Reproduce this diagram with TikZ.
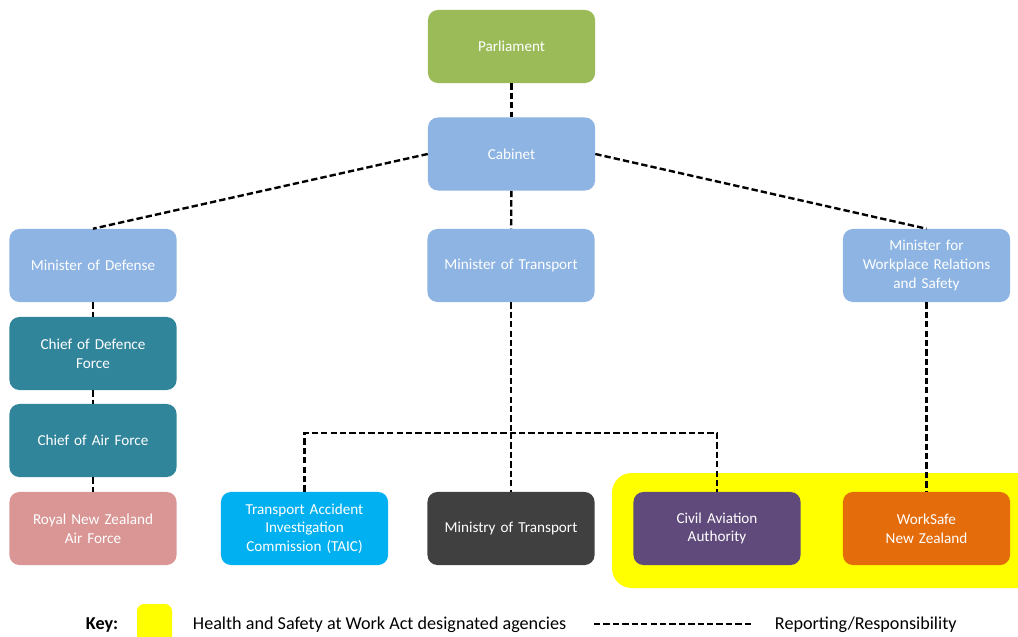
\documentclass[tikz,border=0pt]{standalone}
\usepackage{fontspec}
\setmainfont{Carlito}
\usetikzlibrary{positioning,calc}
\definecolor{parlgreen}{RGB}{155,187,89}
\definecolor{ministerblue}{RGB}{141,180,226}
\definecolor{chiefteal}{RGB}{49,133,155}
\definecolor{airpink}{RGB}{217,150,148}
\definecolor{taicblue}{RGB}{0,176,240}
\definecolor{motgray}{RGB}{64,64,64}
\definecolor{caapurple}{RGB}{96,74,123}
\definecolor{wsorange}{RGB}{228,108,10}
\definecolor{hsyellow}{RGB}{255,255,0}
\tikzset{
  box/.style = {rectangle, rounded corners=7pt,
                text width = 3.9cm, align = center,
                minimum width = 4.175cm, minimum height = 1.825cm,
                inner sep = 2pt, text = white,
                font = \fontsize{10.8}{13.2}\selectfont},
  link/.style = {line width=1.7pt, dash pattern=on 4.5pt off 2.2pt},
  keytext/.style = {anchor=west, font=\fontsize{12.9}{14}\selectfont}
}

\begin{document}
\begin{tikzpicture}[x=0.025cm, y=-0.025cm]
    \useasboundingbox (0,0) rectangle (1018,637);
    % designated agencies
    \begin{scope}
      \clip (0,0) rectangle (1018,637);
      \fill[hsyellow, rounded corners=14pt] (612,473) rectangle (1050,588);
      \fill[hsyellow, rounded corners=5pt] (137,604) rectangle (172,660);
    \end{scope}

    \node[box, fill=parlgreen]    (parl)     at (511.5,46.5) {Parliament};
    \node[box, fill=ministerblue] (cab)      at (511.5,154)  {Cabinet};
    \node[box, fill=ministerblue] (mindef)   at (93,265.5)   {Minister of Defense};
    \node[box, fill=ministerblue] (mintrans) at (511,265.5)  {Minister of Transport};
    \node[box, fill=ministerblue] (minwork)  at (926.5,265.5)
      {Minister for\\ Workplace Relations\\ and Safety};
    \node[box, fill=chiefteal]    (cdf)      at (93,353.5)   {Chief of Defence\\ Force};
    \node[box, fill=chiefteal]    (caf)      at (93,440.5)   {Chief of Air Force};
    \node[box, fill=airpink]      (rnzaf)    at (93,528.5)   {Royal New Zealand\\ Air Force};
    \node[box, fill=taicblue]     (taic)     at (304.5,528.5)
      {Transport Accident\\ Investigation\\ Commission (TAIC)};
    \node[box, fill=motgray]      (mot)      at (511,528.5)  {Ministry of Transport};
    \node[box, fill=caapurple]    (caa)      at (717,528.5)  {Civil Aviation\\ Authority};
    \node[box, fill=wsorange]     (worksafe) at (926.5,528.5) {WorkSafe\\ New Zealand};

    % reporting lines
    \draw[link] (parl) -- (cab);
    \draw[link] (cab.west) -- (mindef.north);
    \draw[link] (cab.east) -- (minwork.north);
    \draw[link] (cab) -- (mintrans);
    \draw[link] (mindef) -- (cdf);
    \draw[link] (cdf) -- (caf);
    \draw[link] (caf) -- (rnzaf);
    \coordinate (split) at (511,433);
    \draw[link] (mintrans) -- (split);
    \draw[link] (taic.north) |- (split) -| (caa.north);
    \draw[link] (split) -- (mot);
    \draw[link] (minwork) -- (worksafe);

    % key
    \node[keytext, font=\fontsize{12.9}{14}\bfseries] (keylab) at (81,625) {Key:};
    \node[keytext] (keyhs) at (188,625) {Health and Safety at Work Act designated agencies};
    \coordinate (dashL) at (594,624);
    \coordinate (dashR) at (754,624);
    \draw[link] (dashL) -- (dashR);
    \node[keytext] (keyrep) at (770,625) {Reporting/Responsibility};
\end{tikzpicture}
\end{document}
